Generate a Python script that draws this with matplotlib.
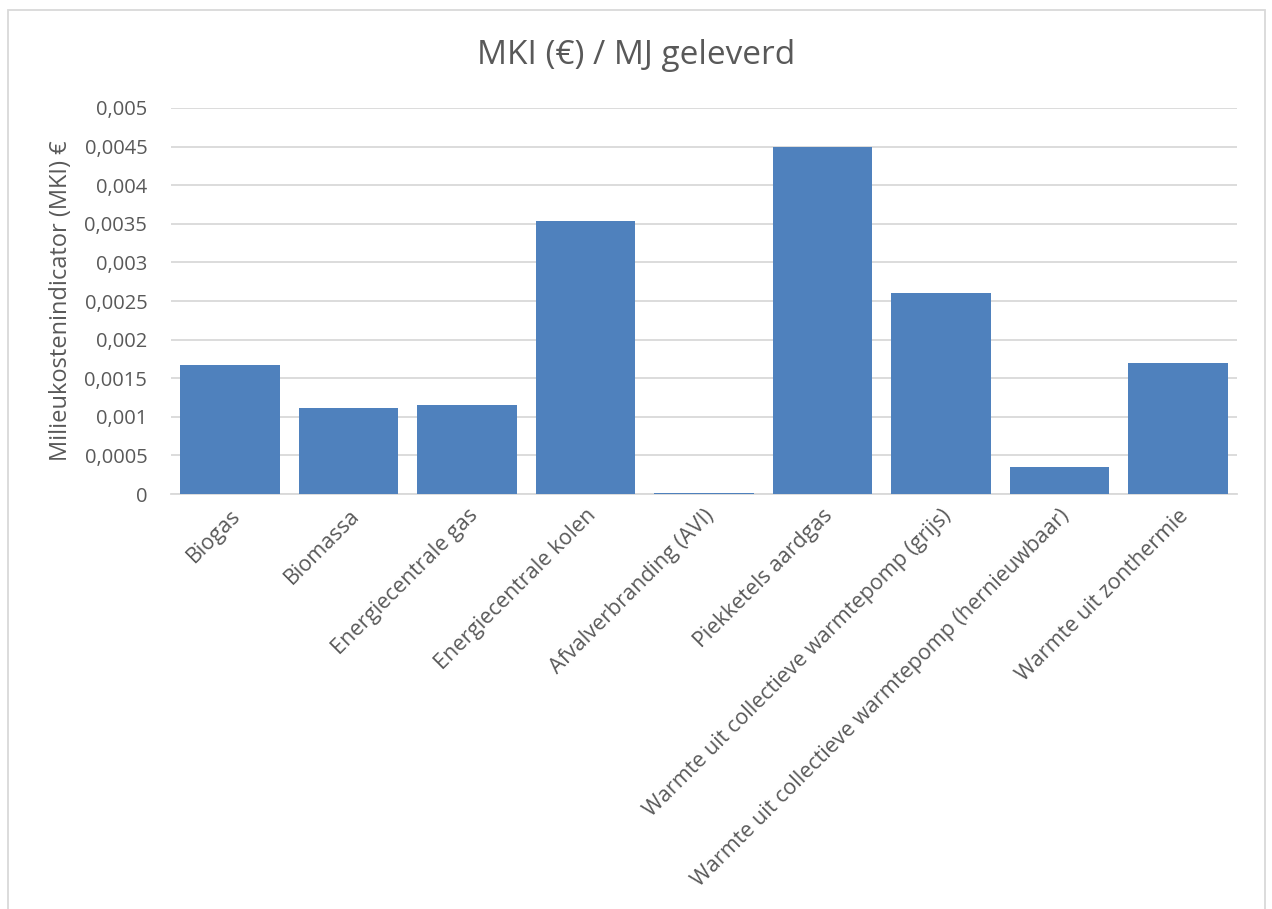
import matplotlib.pyplot as plt
from matplotlib.ticker import FuncFormatter, MultipleLocator
from matplotlib.patches import Rectangle

# categories and values
categories = ['Biogas', 'Biomassa', 'Energiecentrale gas', 'Energiecentrale kolen',
              'Afvalverbranding (AVI)', 'Piekketels aardgas',
              'Warmte uit collectieve warmtepomp (grijs)',
              'Warmte uit collectieve warmtepomp (hernieuwbaar)',
              'Warmte uit zonthermie']
mki = [0.00167, 0.00111, 0.00115, 0.00354, 0.00001, 0.00450, 0.00261, 0.00035, 0.00170]

plt.rcParams['font.family'] = ['Open Sans', 'DejaVu Sans']
txt = '#595959'
grid = '#D9D9D9'

fig = plt.figure(figsize=(12.72, 9.09), dpi=100)
ax = fig.add_axes([0.1344, 0.4565, 0.9725 - 0.1344, 0.8812 - 0.4565])

x = range(len(categories))
ax.bar(x, mki, width=0.84, color='#4F81BD', zorder=3)
ax.set_xlim(-0.5, len(categories) - 0.5)
ax.set_ylim(0, 0.005)
ax.yaxis.set_major_locator(MultipleLocator(0.0005))
ax.yaxis.set_major_formatter(FuncFormatter(lambda v, p: ('%g' % round(v, 6)).replace('.', ',')))
ax.grid(axis='y', color=grid, linewidth=1.3, zorder=0)
for s in ['top', 'right', 'left']:
    ax.spines[s].set_visible(False)
ax.spines['bottom'].set_color(grid)
ax.spines['bottom'].set_linewidth(1.3)
ax.tick_params(length=0, colors=txt)
ax.tick_params(axis='y', pad=17, labelsize=14.5)
ax.tick_params(axis='x', pad=8, labelsize=15.5)
ax.set_xticks(list(x))
ax.set_xticklabels(categories, rotation=45, ha='right', rotation_mode='anchor')
ax.set_ylabel('Milieukostenindicator (MKI) €', color=txt, fontsize=17)
ax.yaxis.set_label_coords(-0.092, 0.5)

fig.text(0.5, 0.939, 'MKI (€) / MJ geleverd', ha='center', va='center', color=txt, fontsize=24)

fig.patches.append(Rectangle((8 / 1272, -0.05), (1265 - 8) / 1272, 1.05 - 10 / 909,
                             transform=fig.transFigure, fill=False, edgecolor=grid,
                             linewidth=1.3, zorder=0))

fig.savefig('out.png', dpi=100, facecolor='white')
